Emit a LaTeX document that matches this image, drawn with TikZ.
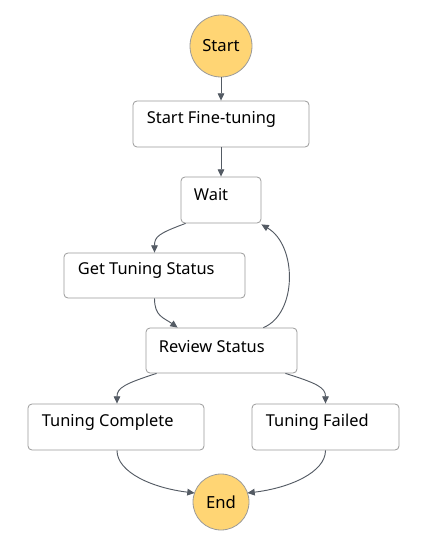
\documentclass[tikz,border=0pt]{standalone}
\usepackage{fontspec}
\setmainfont{Noto Sans}
\usetikzlibrary{arrows.meta,calc}
\definecolor{linec}{HTML}{545B64}
\definecolor{boxc}{HTML}{9A9A9A}
\definecolor{circfill}{HTML}{FFD574}
\tikzset{
  box/.style={draw=boxc, line width=0.6pt, rounded corners=3pt, fill=white, inner sep=0pt},
  term/.style={circle, draw=boxc, line width=0.6pt, fill=circfill, inner sep=0pt, font=\fontsize{12.5}{14}\selectfont},
  lbl/.style={anchor=west, inner sep=0pt, font=\fontsize{12.3}{14}\selectfont},
  conn/.style={draw=linec, line width=0.7pt, -{Triangle[length=5.5pt,width=5pt]}},
}
\begin{document}
\begin{tikzpicture}[x=0.75pt,y=-0.75pt]
\useasboundingbox (0,0) rectangle (424,545);
% terminals
\node[term, minimum size=62*0.75pt] (start) at (221,46) {Start};
\node[term, minimum size=56*0.75pt] (end) at (221,502) {End};
% boxes
\node[box, minimum width=176*0.75pt, minimum height=46*0.75pt] (sft) at (221,124) {};
\node[box, minimum width=80*0.75pt, minimum height=46*0.75pt] (wait) at (221,200) {};
\node[box, minimum width=181*0.75pt, minimum height=45*0.75pt] (get) at (154.5,275.5) {};
\node[box, minimum width=151*0.75pt, minimum height=45*0.75pt] (rev) at (221.5,350.5) {};
\node[box, minimum width=176*0.75pt, minimum height=46*0.75pt] (comp) at (116,427) {};
\node[box, minimum width=147*0.75pt, minimum height=46*0.75pt] (fail) at (325.5,427) {};
% labels
\node[lbl] (tsft) at ($(sft.north west)+(14,19)$) {Start Fine-tuning};
\node[lbl] (twait) at ($(wait.north west)+(13,18)$) {Wait};
\node[lbl] (tget) at ($(get.north west)+(14,18)$) {Get Tuning Status};
\node[lbl] (trev) at ($(rev.north west)+(13,19)$) {Review Status};
\node[lbl] (tcomp) at ($(comp.north west)+(14,19)$) {Tuning Complete};
\node[lbl] (tfail) at ($(fail.north west)+(14,19)$) {Tuning Failed};
% connectors
\draw[conn] (start.south) -- (sft.north);
\draw[conn] (sft.south) -- (wait.north);
\draw[conn] ($(wait.south west)+(5,0)$) .. controls ($(wait.south west)+(-22,10)$) and ($(get.north)+(0,-16)$) .. (get.north);
\draw[conn] (get.south) .. controls ($(get.south)+(0,18)$) and ($(rev.north west)+(18,-10)$) .. ($(rev.north west)+(32,0)$);
\draw[conn] ($(rev.north east)+(-34,0)$) .. controls ($(rev.north east)+(0,-14)$) and ($(wait.south east)+(36,22)$) .. ($(wait.south east)+(0,1)$);
\draw[conn] ($(rev.south west)+(11,0)$) .. controls ($(rev.south west)+(-20,10)$) and ($(comp.north)+(1,-16)$) .. ($(comp.north)+(1,0)$);
\draw[conn] ($(rev.south east)+(-12,0)$) .. controls ($(rev.south east)+(20,10)$) and ($(fail.north)+(0,-16)$) .. (fail.north);
\draw[conn] ($(comp.south)+(1,0)$) .. controls ($(comp.south)+(1,22)$) and ($(end.west)+(-40,-14)$) .. ($(end.west)+(2,-9)$);
\draw[conn] (fail.south) .. controls ($(fail.south)+(0,22)$) and ($(end.east)+(40,-14)$) .. ($(end.east)+(-2,-9)$);
\end{tikzpicture}
\end{document}
